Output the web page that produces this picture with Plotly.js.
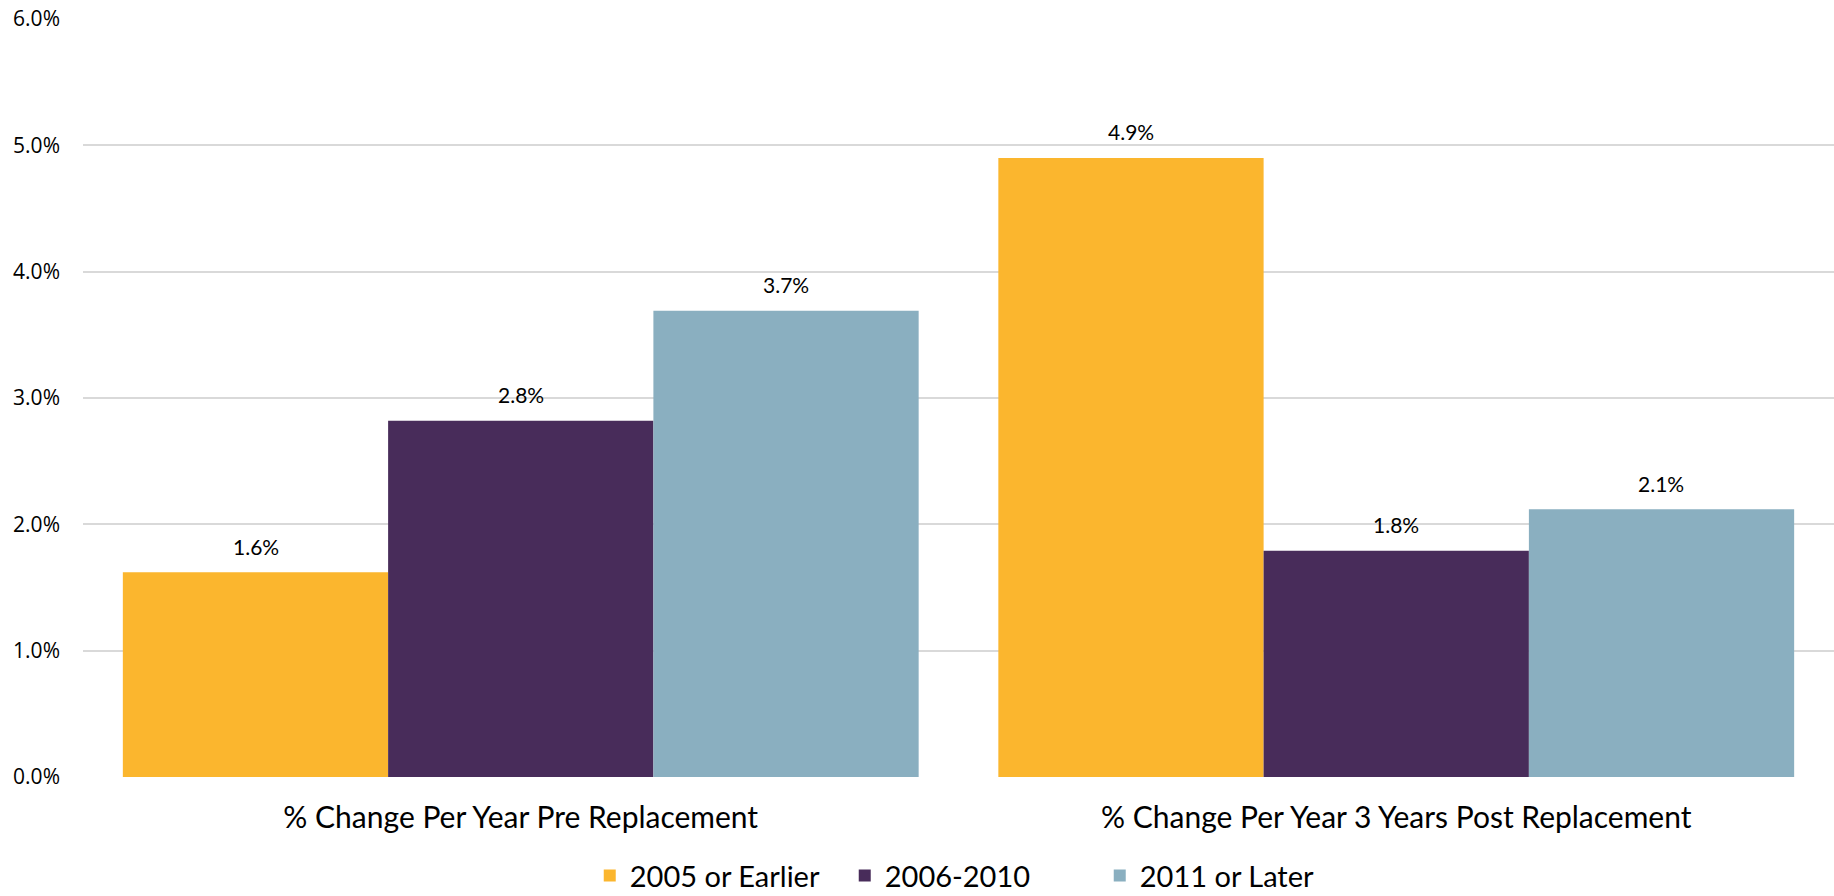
<!DOCTYPE html>
<html>
<head>
<meta charset="utf-8">
<script src="https://cdn.plot.ly/plotly-3.0.1.min.js"></script>
<style>html,body{margin:0;padding:0;background:#fff;}#chart{width:1834px;height:896px;}</style>
</head>
<body>
<div id="chart"></div>
<script>
var categories = ["% Change Per Year Pre Replacement", "% Change Per Year 3 Years Post Replacement"];
var seriesNames = ["2005 or Earlier", "2006-2010", "2011 or Later"];
var s2005 = [1.62, 4.90];
var s2006 = [2.82, 1.79];
var s2011 = [3.69, 2.12];
var yTicks = [0, 1, 2, 3, 4, 5, 6];
var colors = ["#FBB62E", "#482C5A", "#8AAFC0"];

var series = [s2005, s2006, s2011];
var traces = series.map(function (vals, i) {
  return {
    type: "bar",
    name: seriesNames[i],
    x: categories,
    y: vals,
    marker: {color: colors[i], line: {width: 0}},
    hoverinfo: "skip"
  };
});

var barPx = 265;
var annotations = [];
series.forEach(function (vals, i) {
  vals.forEach(function (v, j) {
    annotations.push({
      x: categories[j], y: v, xref: "x", yref: "y",
      text: v.toFixed(1) + "%",
      showarrow: false,
      xshift: (i - 1) * barPx,
      yanchor: "middle", yshift: 26,
      font: {family: "Lato, sans-serif", size: 21, color: "#000"}
    });
  });
});

var layout = {
  width: 1834, height: 896,
  margin: {l: 83, r: 0, t: 19, b: 119, autoexpand: false},
  paper_bgcolor: "#fff", plot_bgcolor: "#fff",
  barmode: "group",
  bargap: 0.091,
  bargroupgap: 0,
  showlegend: true,
  legend: {
    orientation: "h", x: 0.2894, xanchor: "left", y: -0.13, yanchor: "middle",
    entrywidth: 210, entrywidthmode: "pixels",
    font: {family: "Lato, sans-serif", size: 29, color: "#000"},
    traceorder: "normal"
  },
  xaxis: {
    type: "category",
    showgrid: false, zeroline: false, showline: false,
    ticks: "", ticklabelstandoff: 20, automargin: false,
    tickfont: {family: "Lato, sans-serif", size: 30, color: "#000"}
  },
  yaxis: {
    range: [0, 6],
    tickvals: yTicks,
    ticktext: yTicks.map(function (t) { return t.toFixed(1) + "%"; }),
    showgrid: true, gridcolor: "#d9d9d9", gridwidth: 2,
    zeroline: false, showline: false, ticks: "", automargin: false,
    ticklabelstandoff: 22,
    tickfont: {family: "'Open Sans', sans-serif", size: 21, color: "#000"}
  },
  annotations: annotations
};

Plotly.newPlot("chart", traces, layout, {displayModeBar: false, staticPlot: true});
</script>
</body>
</html>
